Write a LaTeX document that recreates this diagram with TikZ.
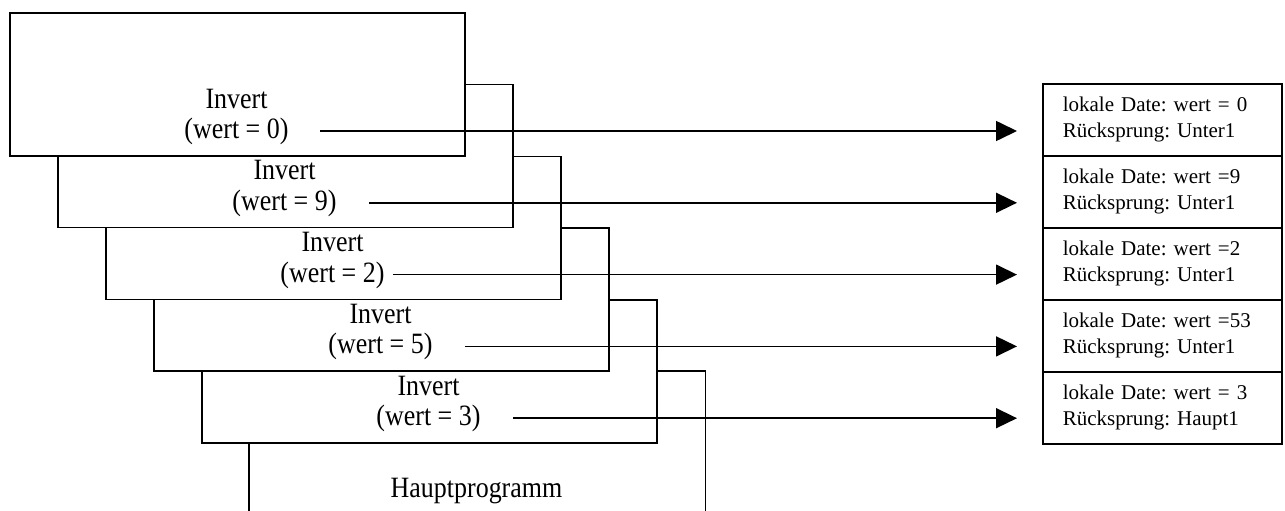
\documentclass[tikz,border=0pt]{standalone}
\usepackage{fontspec}
\setmainfont{Liberation Serif}
\newfontfamily\boxfont[FakeStretch=0.88]{Liberation Serif}
\usetikzlibrary{arrows.meta}
\frenchspacing
\tikzstyle{frame}=[draw,line width=1.6pt,fill=white,minimum width=455pt,minimum height=143pt,inner sep=0pt,anchor=north west]
\tikzstyle{proc text}=[font=\boxfont\fontsize{29.5}{32}\selectfont,inner sep=0pt,anchor=base]
\tikzstyle{stack cell}=[draw,line width=1.6pt,minimum height=72pt,anchor=north west,inner xsep=20pt,inner ysep=0pt,text width=199pt,align=left,font=\fontsize{21}{26}\selectfont]
\tikzstyle{call}=[draw,line width=1.6pt,-{Triangle[length=21pt,width=20pt]},shorten >=25pt]

\begin{document}
\begin{tikzpicture}[x=1pt,y=-1pt]
    \useasboundingbox (0,0) rectangle (1285,511);
    % First the main program at the back, its bottom stays open
    \node[frame,draw=none] (haupt) at (249,371) {};
    \draw[line width=1.6pt] (haupt.south west) |- (haupt.north east) -- (haupt.south east);
    \node[proc text] (hauptname) at (476.5,497) {Hauptprogramm};

    % Then the Invert calls, back to front
    \foreach \k/\w in {4/3, 3/5, 2/2, 1/9, 0/0} {
        \node[frame] (inv\k) at (9+48*\k, 12+71.8*\k) {};
        \node[proc text] (name\k) at (236.5+48*\k, 108+71.8*\k) {Invert};
        \node[proc text] (wert\k) at (236.5+48*\k, 138.5+71.8*\k) {(wert = \w)};
    }

    % The stack on the right
    \foreach \k/\w/\r in {0/{wert = 0}/Unter1, 1/{wert =9}/Unter1, 2/{wert =2}/Unter1, 3/{wert =53}/Unter1, 4/{wert = 3}/Haupt1}
        \node[stack cell] (cell\k) at (1042, 83+72*\k) {lokale Date: \w\\Rücksprung: \r};

    % Connect each call with its stack entry
    \foreach \k/\sx in {0/320, 1/369, 2/393, 3/465, 4/513} {
        \coordinate (src\k) at (\sx, 131+71.8*\k);
        \path[call] (src\k) -- (src\k -| cell\k.west);
    }
\end{tikzpicture}
\end{document}
